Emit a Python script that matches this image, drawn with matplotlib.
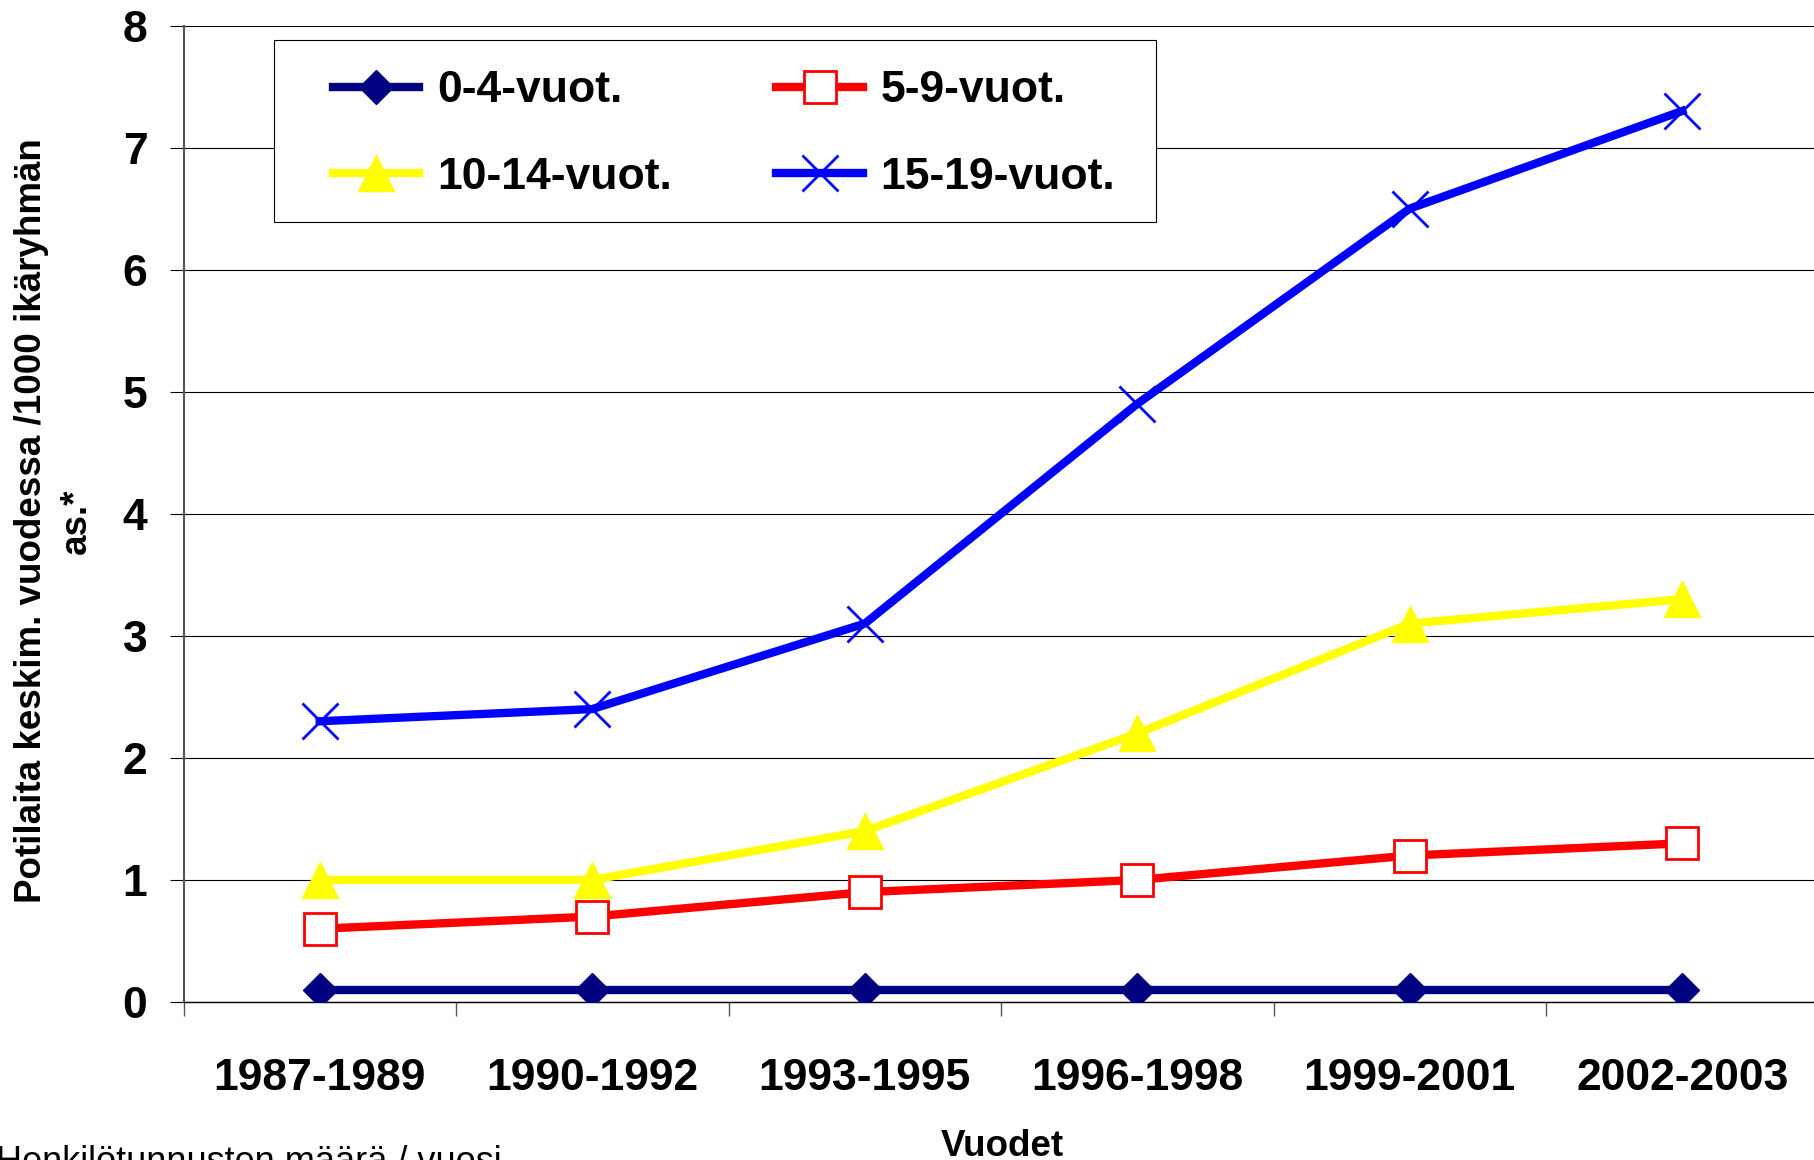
import matplotlib
matplotlib.use("Agg")
import matplotlib.pyplot as plt
from matplotlib.patches import Rectangle
import numpy as np

plt.rcParams['font.family'] = ['Liberation Sans', 'DejaVu Sans']

periods = ['1987-1989', '1990-1992', '1993-1995', '1996-1998', '1999-2001', '2002-2003']
age_0_4 = [0.1, 0.1, 0.1, 0.1, 0.1, 0.1]
age_5_9 = [0.6, 0.7, 0.9, 1.0, 1.2, 1.3]
age_10_14 = [1.0, 1.0, 1.4, 2.2, 3.1, 3.3]
age_15_19 = [2.3, 2.4, 3.1, 4.9, 6.5, 7.3]
y_ticks = [0, 1, 2, 3, 4, 5, 6, 7, 8]

W, H = 1814, 1160
fig = plt.figure(figsize=(W / 100, H / 100), dpi=100)
# axes run a bit past the right edge, as in the original
ax = fig.add_axes([183.5 / W, (H - 1002) / H, (1818.5 - 183.5) / W, (1002 - 25.5) / H])

x = np.arange(len(periods))
lw = 6
l1, = ax.plot(x, age_0_4, color='#000080', lw=lw, marker='D', ms=17,
              mec='#000080', mfc='#000080', label='0-4-vuot.', zorder=3)
l2, = ax.plot(x, age_5_9, color='#FF0000', lw=lw, marker='s', ms=23,
              mec='#FF0000', mfc='white', mew=2, label='5-9-vuot.', zorder=3)
l3, = ax.plot(x, age_10_14, color='#FFFF00', lw=lw, marker='^', ms=26,
              mec='#FFFF00', mfc='#FFFF00', label='10-14-vuot.', zorder=3)
l4, = ax.plot(x, age_15_19, color='#0000FF', lw=lw, marker='x', ms=26,
              mec='#0000FF', mew=2, label='15-19-vuot.', zorder=3)

ax.set_xlim(-0.5, len(periods) - 0.5)
ax.set_ylim(0, 8)
ax.set_yticks(y_ticks)
ax.set_yticklabels([str(v) for v in y_ticks], fontsize=32, fontweight='bold')
ax.yaxis.grid(True, color='black', lw=0.8, zorder=0)
ax.set_axisbelow(True)

ax.set_xticks(np.arange(len(periods) + 1) - 0.5)
ax.set_xticklabels([])
ax.set_xticks(x, minor=True)
ax.set_xticklabels(periods, minor=True, fontsize=32, fontweight='bold')
ax.tick_params(axis='x', which='minor', length=0, pad=40)
ax.tick_params(axis='x', which='major', length=10, width=1, color='#555555')
ax.tick_params(axis='y', length=10, width=0.8, pad=16)

for s in ['top', 'right']:
    ax.spines[s].set_visible(False)
ax.spines['left'].set_color('#555555')
ax.spines['left'].set_linewidth(1.5)
ax.spines['bottom'].set_color('black')
ax.spines['bottom'].set_linewidth(1)

# legend box
box = Rectangle((274 / W, (H - 222) / H), (1156 - 274) / W, (222 - 40) / H,
                transform=fig.transFigure, facecolor='white', edgecolor='black',
                lw=0.8, zorder=4)
ax.add_patch(box)
leg = ax.legend([l1, l3, l2, l4], ['0-4-vuot.', '10-14-vuot.', '5-9-vuot.', '15-19-vuot.'],
                ncol=2, loc='center', bbox_to_anchor=(724 / W, (H - 134) / H),
                bbox_transform=fig.transFigure, frameon=False,
                prop={'size': 32, 'weight': 'bold'}, handlelength=1.95,
                handletextpad=0.4, columnspacing=2.35, labelspacing=1.03,
                borderpad=0)
leg.set_zorder(5)

fig.text(54 / W, (H - 521) / H,
         'Potilaita keskim. vuodessa /1000 ikäryhmän\nas.*',
         rotation=90, ha='center', va='center', multialignment='center',
         fontsize=26.5, fontweight='bold', linespacing=1.35)
fig.text(1002 / W, (H - 1156) / H, 'Vuodet', ha='center', va='baseline',
         fontsize=26.5, fontweight='bold')
fig.text(-4 / W, (H - 1172) / H, 'Henkilötunnusten määrä / vuosi',
         ha='left', va='baseline', fontsize=26)

fig.savefig('out.png', dpi=100)
